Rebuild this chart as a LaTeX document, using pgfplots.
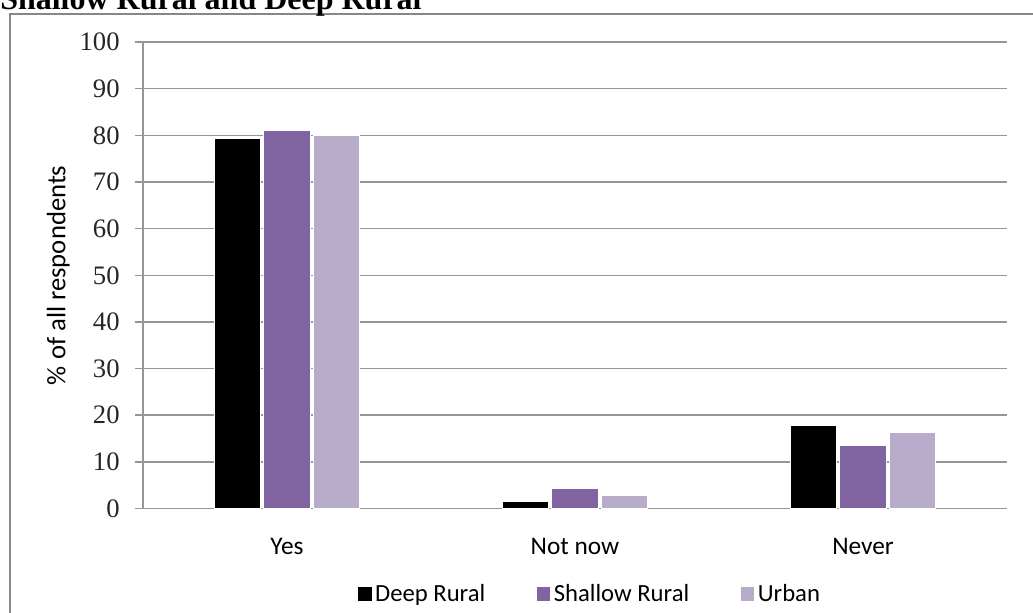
\documentclass[border=0pt]{standalone}
\usepackage{pgfplots}
\pgfplotsset{compat=1.18}
\usepackage{fontspec}
\setmainfont{Liberation Serif}
\newfontfamily\calfont{Carlito}

\definecolor{shallow}{RGB}{128,100,162}
\definecolor{urban}{RGB}{183,173,202}
\definecolor{gridgray}{RGB}{150,150,150}
\definecolor{framegray}{RGB}{135,135,135}

\begin{document}
\begin{tikzpicture}
% frame and clipped title (page = 1033x612 px, 1px = 0.75pt)
\draw[framegray, line width=1.6pt] (7.5pt,-10pt) rectangle (790pt,448.5pt);
\node[anchor=base west, inner sep=0pt, font=\bfseries\fontsize{24}{28}\selectfont] at (0pt,451.5pt) {Shallow Rural and Deep Rural};

\begin{axis}[
  at={(107.25pt,77.6pt)}, anchor=south west,
  scale only axis, width=648pt, height=349.9pt,
  ybar=2.2pt, bar width=35pt,
  xmin=-0.5, xmax=2.5, ymin=0, ymax=100,
  xtick={0,1,2}, xticklabels={Yes,Not now,Never},
  major x tick style={draw=none},
  ytick={0,10,...,100},
  ymajorgrids, grid style={gridgray, line width=1.1pt},
  axis x line*=bottom, axis y line*=left,
  axis line style={gridgray, line width=1.1pt, -},
  tick align=outside, major tick length=6pt,
  ytick style={gridgray, line width=1.1pt},
  /pgf/number format/assume math mode=true,
  y tick label style={font=\fontsize{20}{24}\selectfont, color=black!85, xshift=-8pt},
  x tick label style={font=\calfont\fontsize{19}{23}\selectfont, yshift=-12.5pt},
  ylabel={\% of all respondents},
  every axis y label/.style={at={(axis description cs:-0.098,0.5)}, rotate=90, anchor=center,
    font=\calfont\fontsize{20}{24}\selectfont},
  legend style={at={(0.517,-0.183)}, anchor=center, draw=none, legend columns=3,
    font=\calfont\fontsize{18.5}{22}\selectfont,
    nodes={inner sep=1.8pt},
    /tikz/every even column/.append style={column sep=36pt}},
  legend image code/.code={\fill[#1] (0pt,-5.5pt) rectangle (11pt,5.5pt);},
]
\addplot[fill=black, draw=white, line width=0.8pt] coordinates {(0,79.4) (1,1.6) (2,17.7)};
\addplot[fill=shallow, draw=white, line width=0.8pt] coordinates {(0,81.0) (1,4.3) (2,13.6)};
\addplot[fill=urban, draw=white, line width=0.8pt] coordinates {(0,79.9) (1,2.7) (2,16.2)};
\legend{Deep Rural,Shallow Rural,Urban}
\end{axis}

\pgfresetboundingbox
\path[use as bounding box] (0pt,0pt) rectangle (774.75pt,459pt);
\end{tikzpicture}
\end{document}
